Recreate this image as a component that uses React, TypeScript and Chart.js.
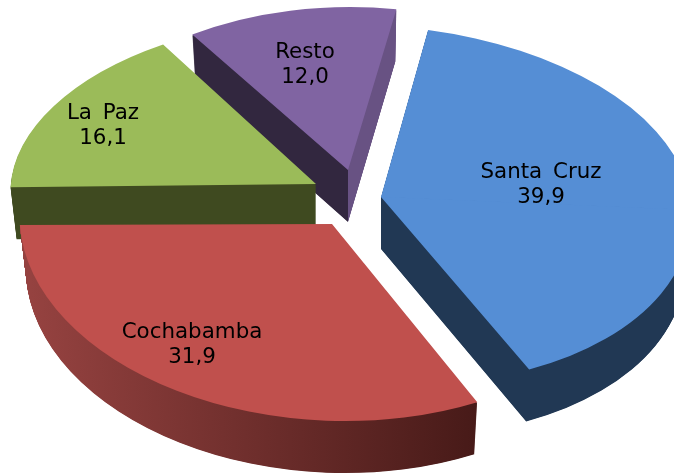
import React, { useEffect, useRef } from "react";
import { Chart, registerables } from "chart.js";

Chart.register(...registerables);

const categories = ["Santa Cruz", "Cochabamba", "La Paz", "Resto"];
const values = [39.9, 31.9, 16.1, 12.0];
const valueLabels = ["39,9", "31,9", "16,1", "12,0"];
const topColors = ["#558ed5", "#c0504d", "#9bbb59", "#8064a2"];

// Per-slice projection of the tilted, exploded disc (stands in for perspective):
// where each slice's tip lands, and the 2x2 matrix that takes the unit disc to the page.
// The large front slice is projected in two pieces, split along its horizontal ray.
const tipX = [381, 332, 316, 348];
const tipY = [197, 224, 184, 170];
const pieceSlice = [0, 0, 1, 2, 3];
const pieceClip = [1, -1, 0, 0, 0];
const projA = [310, 310, 312.5, 305, 283];
const projB = [9.3, 3.6, 4.8, -20.4, -2.2];
const projC = [13, 13, 5.3, 2.2, 0];
const projD = [186.6, 171.4, 197, 166.4, 163];
const labelX = [541, 192, 103, 305];
const labelY = [185, 345, 125.5, 65];
const drawOrder = [3, 2, 0, 1];
const depth = 52;
const shrink = 0.02;
const FONT = '21.4px "DejaVu Sans"';

type Stop = [number, string];
const sideStops: Stop[][] = [
  [[0, "#213854"], [1, "#213854"]],
  [[0, "#954240"], [1, "#471a18"]],
  [[0, "#3f4a20"], [1, "#3f4a20"]],
  [[0, "#32273f"], [0.765, "#32273f"], [0.765, "#685283"], [1, "#685283"]],
];
const sideRange = [
  [0, 674],
  [27, 475],
  [0, 674],
  [192, 396],
];

const piePlugin = {
  id: "tiltedPie",
  beforeDatasetsDraw(chart: any) {
    const ctx = chart.ctx;
    const arcs = chart.getDatasetMeta(0).data;
    const drawPiece = (p: number, extraY: number, k: number) => {
      const i = pieceSlice[p];
      const arc = arcs[i];
      const R = arc.outerRadius;
      const A = (projA[p] * k) / R;
      const B = (projB[p] * k) / R;
      const C = projC[p] / R;
      const D = projD[p] / R;
      ctx.save();
      ctx.setTransform(A, C, B, D, tipX[i] - A * arc.x - B * arc.y, tipY[i] + extraY - C * arc.x - D * arc.y);
      if (pieceClip[p] !== 0) {
        ctx.beginPath();
        if (pieceClip[p] > 0) ctx.rect(arc.x - 2 * R, arc.y - 1, 4 * R, 2 * R);
        else ctx.rect(arc.x - 2 * R, arc.y - 2 * R, 4 * R, 2 * R);
        ctx.clip();
      }
      arc.draw(ctx);
      ctx.restore();
    };
    for (const i of drawOrder) {
      const arc = arcs[i];
      const R = arc.outerRadius;
      const first = pieceSlice.indexOf(i);
      const screenToArc = (x: number) => ((x - tipX[i]) * R) / projA[first] + arc.x;
      const grad = ctx.createLinearGradient(screenToArc(sideRange[i][0]), 0, screenToArc(sideRange[i][1]), 0);
      sideStops[i].forEach(([p, c]) => grad.addColorStop(p, c));
      const base = arc.options.backgroundColor;
      const pieces = pieceSlice.map((s, p) => (s === i ? p : -1)).filter((p) => p >= 0);
      arc.options.backgroundColor = grad;
      for (let d = depth; d >= 1; d -= 0.5) {
        pieces.forEach((p) => drawPiece(p, d, 1 - (shrink * d) / depth));
      }
      arc.options.backgroundColor = base;
      pieces.forEach((p) => drawPiece(p, 0, 1));
    }
    ctx.save();
    ctx.setTransform(1, 0, 0, 1, 0, 0);
    ctx.font = FONT;
    (ctx as any).wordSpacing = "4px";
    ctx.fillStyle = "#000";
    ctx.textAlign = "center";
    ctx.textBaseline = "middle";
    categories.forEach((name, i) => {
      ctx.fillText(name, labelX[i], labelY[i] - 12.5);
      ctx.fillText(valueLabels[i], labelX[i], labelY[i] + 12.5);
    });
    ctx.restore();
    return false;
  },
};

export default function App() {
  const ref = useRef<HTMLCanvasElement>(null);
  useEffect(() => {
    const chart = new Chart(ref.current!, {
      type: "pie",
      data: {
        labels: categories,
        datasets: [{ data: values, backgroundColor: topColors, borderWidth: 0 }],
      },
      options: {
        animation: false,
        responsive: false,
        rotation: 9.4,
        layout: { padding: 0 },
        plugins: { legend: { display: false }, tooltip: { enabled: false } },
      },
      plugins: [piePlugin],
    });
    return () => chart.destroy();
  }, []);
  return (
    <div style={{ position: "absolute", left: 0, top: 0, width: 674, height: 474, background: "#fff", overflow: "hidden" }}>
      <canvas ref={ref} width={674} height={474} style={{ display: "block" }} />
    </div>
  );
}
